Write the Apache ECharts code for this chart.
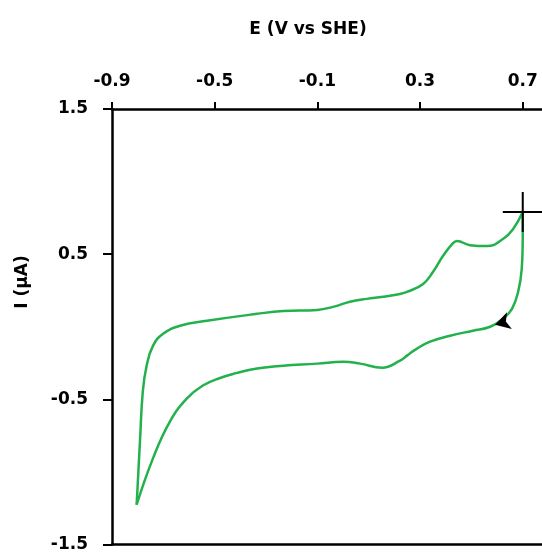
<!DOCTYPE html>
<html>
<head>
<meta charset="utf-8">
<script src="https://cdn.jsdelivr.net/npm/echarts@6/dist/echarts.min.js"></script>
<style>
html,body{margin:0;padding:0;background:#fff;}
#chart{width:542px;height:553px;}
</style>
</head>
<body>
<div id="chart"></div>
<script>
// Cathodic scan: from vertex (0.7 V) down to the negative vertex
const cathodicE = [0.70, 0.700, 0.696, 0.682, 0.658, 0.623, 0.573, 0.506, 0.417, 0.339, 0.288, 0.249, 0.222, 0.152, 0.066, 0.000, -0.101, -0.234, -0.304, -0.362, -0.413, -0.479, -0.546, -0.608, -0.674, -0.740, -0.804];
const cathodicI = [0.79, 0.624, 0.398, 0.240, 0.123, 0.055, 0.000, -0.027, -0.062, -0.103, -0.151, -0.199, -0.234, -0.282, -0.254, -0.241, -0.254, -0.268, -0.280, -0.296, -0.318, -0.353, -0.405, -0.494, -0.652, -0.905, -1.226];
// Anodic scan: from negative vertex back up to 0.7 V
const anodicE = [-0.804, -0.791, -0.780, -0.765, -0.740, -0.701, -0.635, -0.530, -0.335, -0.234, -0.101, -0.039, 0.027, 0.093, 0.156, 0.222, 0.249, 0.312, 0.350, 0.389, 0.425, 0.444, 0.495, 0.561, 0.623, 0.662, 0.70];
const anodicI = [-1.226, -0.789, -0.446, -0.267, -0.130, -0.048, 0.007, 0.041, 0.089, 0.109, 0.116, 0.137, 0.172, 0.192, 0.206, 0.226, 0.240, 0.295, 0.377, 0.487, 0.569, 0.590, 0.562, 0.556, 0.604, 0.672, 0.79];

const xTicks = [-0.9, -0.5, -0.1, 0.3, 0.7];
const yTicks = [-1.5, -0.5, 0.5, 1.5];
const startPoint = [cathodicE[0], cathodicI[0]];
const arrowAt = [0.592, 0.014];

const xTitle = 'E (V vs SHE)';
const yTitle = 'I (µA)';

const FONT = 'DejaVu Sans';
const GREEN = '#22b14c';

const pairs = (xs, ys) => xs.map((x, i) => [x, ys[i]]);

const chart = echarts.init(document.getElementById('chart'), null, {renderer: 'canvas'});
const axisLineStyle = {color: '#000', width: 2.5};
chart.setOption({
  animation: false,
  backgroundColor: '#fff',
  grid: {left: 112, top: 109, right: 0, bottom: 6, containLabel: false},
  xAxis: [{
    type: 'value', position: 'top', min: -0.9, max: 0.775,
    axisLine: {show: true, onZero: false, lineStyle: axisLineStyle},
    axisTick: {show: true, length: 7, inside: false, customValues: xTicks, lineStyle: {color: '#000', width: 2}},
    axisLabel: {customValues: xTicks, margin: 19, color: '#000', fontFamily: FONT, fontWeight: 'bold', fontSize: 17,
      formatter: v => v.toFixed(1)},
    splitLine: {show: false}
  }, {
    type: 'value', position: 'bottom', min: -0.9, max: 0.775,
    axisLine: {show: true, onZero: false, lineStyle: axisLineStyle},
    axisTick: {show: false}, axisLabel: {show: false}, splitLine: {show: false}
  }],
  yAxis: {
    type: 'value', min: -1.5, max: 1.5,
    axisLine: {show: true, onZero: false, lineStyle: axisLineStyle},
    axisTick: {show: true, length: 9, customValues: yTicks, lineStyle: {color: '#000', width: 2}},
    axisLabel: {customValues: yTicks, margin: 24, color: '#000', fontFamily: FONT, fontWeight: 'bold', fontSize: 17,
      formatter: v => v.toFixed(1)},
    splitLine: {show: false}
  },
  graphic: [
    {type: 'text', x: 308, y: 30, style: {text: xTitle, fill: '#000', font: 'bold 17px "DejaVu Sans"', align: 'center', verticalAlign: 'middle'}},
    {type: 'text', x: 23, y: 282, rotation: Math.PI / 2, style: {text: yTitle, fill: '#000', font: 'bold 17px "DejaVu Sans"', align: 'center', verticalAlign: 'middle'}}
  ],
  series: [{
    type: 'line', name: 'cathodic', data: pairs(cathodicE, cathodicI), smooth: 0.45,
    showSymbol: false, lineStyle: {color: GREEN, width: 2.5}, z: 3,
    markPoint: {
      symbol: 'path://M19,0 L21,0 L21,19 L40,19 L40,21 L21,21 L21,40 L19,40 L19,21 L0,21 L0,19 L19,19 Z',
      symbolSize: [40, 40], label: {show: false}, itemStyle: {color: '#000'}, silent: true,
      data: [{coord: startPoint}]
    }
  }, {
    type: 'line', name: 'anodic', data: pairs(anodicE, anodicI), smooth: 0.45,
    showSymbol: false, lineStyle: {color: GREEN, width: 2.5}, z: 3,
    markPoint: {
      symbol: 'arrow', symbolSize: [13, 15], symbolRotate: 106, label: {show: false},
      itemStyle: {color: '#000'}, silent: true,
      data: [{coord: arrowAt}]
    }
  }]
});
</script>
</body>
</html>
